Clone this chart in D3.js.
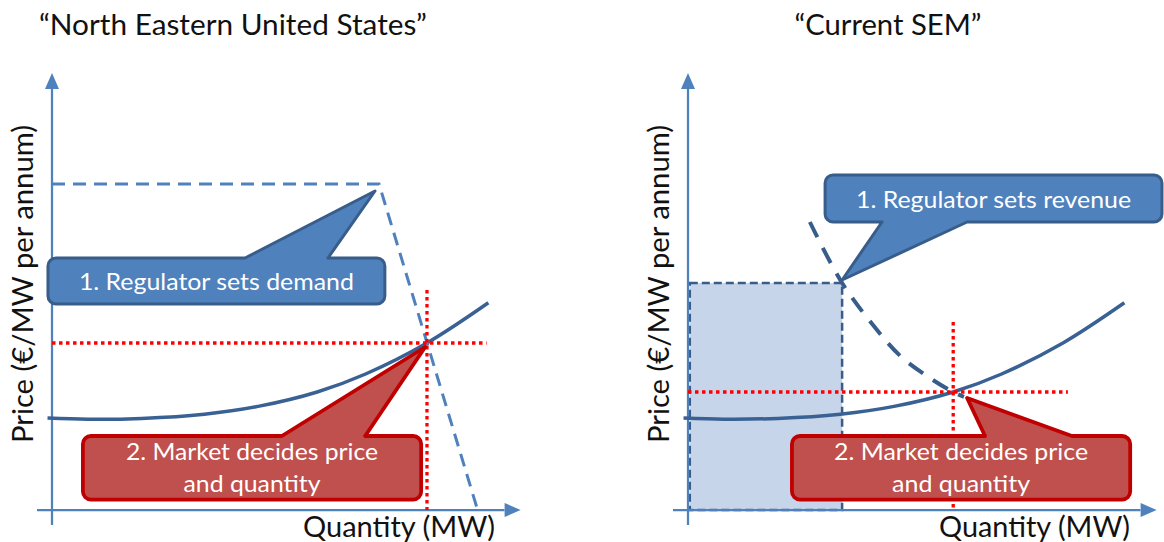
<!DOCTYPE html>
<html>
<head>
<meta charset="utf-8">
<script src="https://cdn.jsdelivr.net/npm/d3@7"></script>
<style>
  html, body { margin: 0; padding: 0; background: #ffffff; }
  svg { display: block; }
  text { font-family: Lato, "Open Sans", "Noto Sans", sans-serif; }
</style>
</head>
<body>
<div id="chart"></div>
<script>
// ---------- DATA (abstract units: quantity 0-100, price 0-100) ----------
const panelTitles = ["\u201CNorth Eastern United States\u201D", "\u201CCurrent SEM\u201D"];
const xAxisLabel = "Quantity (MW)";
const yAxisLabel = "Price (\u20AC/MW per annum)";

// Supply curve (same shape in both panels)
const supplyQ = [-1, 8, 20, 34, 46, 59.2, 70, 83.7, 97.4];
const supplyP = [23, 22.7, 22.9, 23.95, 25.9, 29.5, 34.0, 41.75, 51.8];

// Demand set by regulator (North Eastern US)
const demandNEQ = [0, 73, 95];
const demandNEP = [81.5, 81.5, 0];

// Demand implied by fixed revenue (Current SEM)
const demandSEMQ = [27.2, 34.4, 42.2, 47.5, 54, 59.2, 61.6];
const demandSEMP = [72, 56.75, 45, 38.4, 33, 29.5, 28.3];

// Equilibrium points [quantity, price]
const equilibriumNE = [83.7, 41.75];
const equilibriumSEM = [59.2, 29.5];

// Revenue rectangle (SEM): quantity and price set by regulator
const revenueBox = [34.4, 56.75];

// Callout texts
const calloutRegNE = ["1. Regulator sets demand"];
const calloutRegSEM = ["1. Regulator sets revenue"];
const calloutMarket = ["2. Market decides price", "and quantity"];

// ---------- LAYOUT ----------
const W = 1164, H = 542;
const svg = d3.select("#chart").append("svg").attr("width", W).attr("height", H);

const C = {
  axis: "#4F81BD",
  supply: "#3A6194",
  demandNE: "#4F81BD",
  demandSEM: "#385D8A",
  red: "#FF0000",
  blueFill: "#4F81BD", blueStroke: "#385D8A",
  redFill: "#C0504D", redStroke: "#C00000",
  box: "#C6D5E9"
};

const panels = [
  {
    originX: 52, titleX: 233, titleLen: 388, xlabLen: 192,
    demandQ: demandNEQ, demandP: demandNEP, demandColor: C.demandNE, demandDash: "13,8", demandWidth: 3,
    eq: equilibriumNE, hLineEnd: 97, vLineTop: 55,
    callouts: [
      { lines: calloutRegNE, fill: C.blueFill, stroke: C.blueStroke, sw: 3,
        q0: -0.9, q1: 74.3, p0: 51.5, p1: 63, side: "top", b0: 43.1, b1: 61.6, tq: 72.1, tp: 79.75,
        lens: [275], dy: [9] },
      { lines: calloutMarket, fill: C.redFill, stroke: C.redStroke, sw: 3.8,
        q0: 6.9, q1: 82.4, p0: 2.6, p1: 18.5, side: "top", b0: 51.3, b1: 69.9, tq: 83.3, tp: 40.75,
        lens: [252, 137], dy: [-7.5, 24.5] }
    ]
  },
  {
    originX: 688, titleX: 888, titleLen: 187, xlabLen: 191,
    demandQ: demandSEMQ, demandP: demandSEMP, demandColor: C.demandSEM, demandDash: "17,12", demandWidth: 4,
    eq: equilibriumSEM, hLineEnd: 84.8, vLineTop: 47,
    revenue: revenueBox,
    callouts: [
      { lines: calloutRegSEM, fill: C.blueFill, stroke: C.blueStroke, sw: 3,
        q0: 30.6, q1: 105.8, p0: 72, p1: 83.75, side: "bottom", b0: 43.3, b1: 62.3, tq: 34.4, tp: 57.5,
        lens: [275], dy: [9.5] },
      { lines: calloutMarket, fill: C.redFill, stroke: C.redStroke, sw: 3.8,
        q0: 23.2, q1: 98.7, p0: 2.6, p1: 18.5, side: "top", b0: 66.3, b1: 85.7, tq: 62.3, tp: 28,
        lens: [254, 138], dy: [-7.5, 24.5] }
    ]
  }
];

function calloutPath(x, y, c) {
  const x0 = x(c.q0), x1 = x(c.q1), yT = y(c.p1), yB = y(c.p0);
  const r = 8;
  const b0 = x(c.b0), b1 = x(c.b1), tx = x(c.tq), ty = y(c.tp);
  const p = d3.path();
  p.moveTo(x0 + r, yT);
  if (c.side === "top") { p.lineTo(b0, yT); p.lineTo(tx, ty); p.lineTo(b1, yT); }
  p.lineTo(x1 - r, yT);
  p.arcTo(x1, yT, x1, yT + r, r);
  p.lineTo(x1, yB - r);
  p.arcTo(x1, yB, x1 - r, yB, r);
  if (c.side === "bottom") { p.lineTo(b1, yB); p.lineTo(tx, ty); p.lineTo(b0, yB); }
  p.lineTo(x0 + r, yB);
  p.arcTo(x0, yB, x0, yB - r, r);
  p.lineTo(x0, yT + r);
  p.arcTo(x0, yT, x0 + r, yT, r);
  p.closePath();
  return p.toString();
}

panels.forEach((P, i) => {
  const x = d3.scaleLinear().domain([0, 100]).range([P.originX, P.originX + 448]);
  const y = d3.scaleLinear().domain([0, 100]).range([510, 110]);
  const g = svg.append("g");

  // Title
  g.append("text")
    .attr("x", P.titleX).attr("y", 35)
    .attr("text-anchor", "middle")
    .attr("font-size", 28).attr("fill", "#111")
    .attr("textLength", P.titleLen).attr("lengthAdjust", "spacingAndGlyphs")
    .text(panelTitles[i]);

  // Revenue rectangle (SEM only)
  if (P.revenue) {
    g.append("rect")
      .attr("x", x(0.4)).attr("y", y(P.revenue[1]))
      .attr("width", x(P.revenue[0]) - x(0.4)).attr("height", y(0) - y(P.revenue[1]))
      .attr("fill", C.box)
      .attr("stroke", C.demandSEM).attr("stroke-width", 2.5).attr("stroke-dasharray", "8,4");
  }

  // Axes
  const axisG = g.append("g");
  axisG.append("line")
    .attr("x1", x(0)).attr("x2", x(0)).attr("y1", y(-3.75)).attr("y2", y(105.5))
    .attr("stroke", C.axis).attr("stroke-width", 2.25);
  axisG.append("line")
    .attr("x1", x(-3.35)).attr("x2", x(101)).attr("y1", y(0)).attr("y2", y(0))
    .attr("stroke", C.axis).attr("stroke-width", 2.25);
  // arrowheads
  axisG.append("path")
    .attr("d", `M${x(0)},${y(109.25)} L${x(0) - 7},${y(109.25) + 16} L${x(0) + 7},${y(109.25) + 16} Z`)
    .attr("fill", C.axis);
  axisG.append("path")
    .attr("d", `M${x(104.6)},${y(0)} L${x(104.6) - 16},${y(0) - 7} L${x(104.6) - 16},${y(0) + 7} Z`)
    .attr("fill", C.axis);

  // Axis labels
  g.append("text")
    .attr("x", x(0) + 251).attr("y", 537)
    .attr("font-size", 28).attr("fill", "#111")
    .attr("textLength", P.xlabLen).attr("lengthAdjust", "spacingAndGlyphs")
    .text(xAxisLabel);
  g.append("text")
    .attr("transform", `translate(${x(0) - 19},284) rotate(-90)`)
    .attr("text-anchor", "middle")
    .attr("font-size", 28).attr("fill", "#111")
    .attr("textLength", 318).attr("lengthAdjust", "spacingAndGlyphs")
    .text(yAxisLabel);

  // Supply curve
  const supply = supplyQ.map((q, k) => [q, supplyP[k]]);
  g.append("path")
    .datum(supply)
    .attr("d", d3.line().x(d => x(d[0])).y(d => y(d[1])).curve(d3.curveCatmullRom.alpha(0.5)))
    .attr("fill", "none").attr("stroke", C.supply).attr("stroke-width", 3.5);

  // Demand curve
  const demand = P.demandQ.map((q, k) => [q, P.demandP[k]]);
  g.append("path")
    .datum(demand)
    .attr("d", d3.line().x(d => x(d[0])).y(d => y(d[1]))
      .curve(i === 0 ? d3.curveLinear : d3.curveCatmullRom.alpha(0.5)))
    .attr("fill", "none").attr("stroke", P.demandColor)
    .attr("stroke-width", P.demandWidth).attr("stroke-dasharray", P.demandDash);

  // Red dotted equilibrium lines
  g.append("line")
    .attr("x1", x(0)).attr("x2", x(P.hLineEnd)).attr("y1", y(P.eq[1])).attr("y2", y(P.eq[1]))
    .attr("stroke", C.red).attr("stroke-width", 3.3).attr("stroke-dasharray", "3.5,3.5");
  g.append("line")
    .attr("x1", x(P.eq[0])).attr("x2", x(P.eq[0])).attr("y1", y(P.vLineTop)).attr("y2", y(0))
    .attr("stroke", C.red).attr("stroke-width", 3.3).attr("stroke-dasharray", "3.5,3.5");

  // Callouts
  P.callouts.forEach(c => {
    g.append("path")
      .attr("d", calloutPath(x, y, c))
      .attr("fill", c.fill).attr("stroke", c.stroke).attr("stroke-width", c.sw)
      .attr("stroke-linejoin", "round");
    const cx = (x(c.q0) + x(c.q1)) / 2;
    const cy = (y(c.p0) + y(c.p1)) / 2;
    c.lines.forEach((line, k) => {
      g.append("text")
        .attr("x", cx).attr("y", cy + c.dy[k])
        .attr("text-anchor", "middle")
        .attr("font-size", 23).attr("fill", "#ffffff")
        .attr("textLength", c.lens[k]).attr("lengthAdjust", "spacingAndGlyphs")
        .text(line);
    });
  });
});
</script>
</body>
</html>
